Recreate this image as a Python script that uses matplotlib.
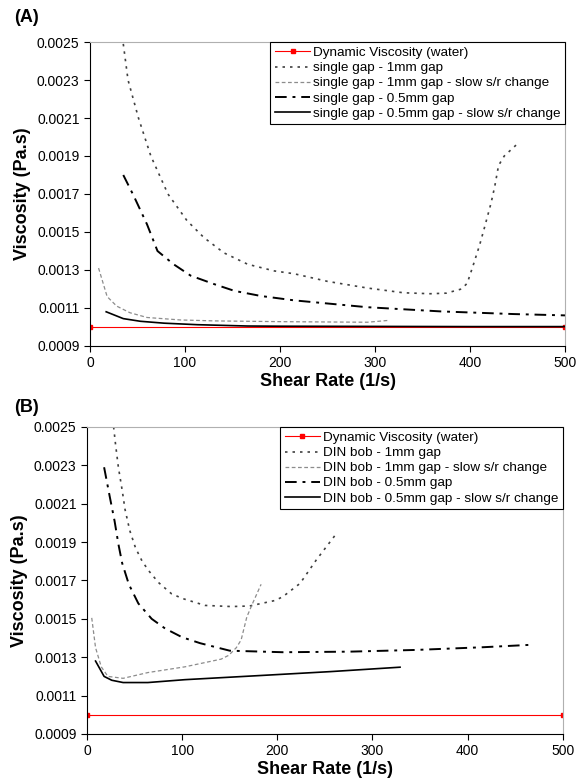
import matplotlib
matplotlib.use("Agg")
import matplotlib.pyplot as plt

plt.rcParams['font.family'] = ['Liberation Sans', 'DejaVu Sans']

# ---- panel A : single gap ----
water_x = [0, 500]
water_y = [0.001, 0.001]

a_1mm_x = [35, 40, 51, 64, 82, 102, 120, 141, 166, 194, 215, 250, 292, 330, 358, 375, 391, 397, 403, 410, 415, 422, 426, 430, 436, 449]
a_1mm_y = [0.00249, 0.0023, 0.0021, 0.0019, 0.0017, 0.00156, 0.00147, 0.00139, 0.00133, 0.001295, 0.00128, 0.00124, 0.001205, 0.00118, 0.001175, 0.001178, 0.0012, 0.00123, 0.00132, 0.00143, 0.00152, 0.00165, 0.00174, 0.00185, 0.0019, 0.00196]

a_1mm_slow_x = [9, 18, 28, 42, 60, 95, 131, 201, 292, 315]
a_1mm_slow_y = [0.00131, 0.00116, 0.00111, 0.001075, 0.00105, 0.001037, 0.001032, 0.001028, 0.001025, 0.001035]

a_05mm_x = [35, 46, 60, 71, 88, 106, 131, 152, 180, 215, 292, 369, 446, 500]
a_05mm_y = [0.0018, 0.00169, 0.00154, 0.0014, 0.00133, 0.00127, 0.001225, 0.00119, 0.001163, 0.00114, 0.001104, 0.001082, 0.001068, 0.001061]

a_05mm_slow_x = [17, 35, 53, 78, 113, 166, 201, 300, 400, 500]
a_05mm_slow_y = [0.00108, 0.001044, 0.00103, 0.00102, 0.001012, 0.001005, 0.001004, 0.001003, 0.001002, 0.001002]

# ---- panel B : DIN bob ----
b_1mm_x = [28, 30, 33, 37, 40, 45, 51, 58, 65, 75, 89, 101, 124, 152, 171, 198, 206, 224, 241, 261]
b_1mm_y = [0.0025, 0.00241, 0.00229, 0.00217, 0.00207, 0.00196, 0.00187, 0.0018, 0.00175, 0.00169, 0.00163, 0.001605, 0.00157, 0.001564, 0.001567, 0.001596, 0.001616, 0.001685, 0.001807, 0.001937]

b_1mm_slow_x = [5, 9, 15, 22, 38, 64, 103, 141, 149, 157, 162, 168, 174, 183]
b_1mm_slow_y = [0.001505, 0.00135, 0.00125, 0.0012, 0.00119, 0.00122, 0.00125, 0.00129, 0.00131, 0.00135, 0.00139, 0.00151, 0.00158, 0.00168]

b_05mm_x = [18, 24, 29, 33, 37, 44, 54, 68, 82, 100, 119, 150, 206, 276, 346, 416, 464]
b_05mm_y = [0.00229, 0.002135, 0.00201, 0.00189, 0.00179, 0.00168, 0.00158, 0.0015, 0.00145, 0.001404, 0.001373, 0.001334, 0.001326, 0.001329, 0.001338, 0.001352, 0.001364]

b_05mm_slow_x = [9, 18, 26, 38, 64, 103, 180, 256, 329]
b_05mm_slow_y = [0.00128, 0.0012, 0.00118, 0.001168, 0.001168, 0.001183, 0.001204, 0.001225, 0.001248]

y_ticks = [0.0009, 0.0011, 0.0013, 0.0015, 0.0017, 0.0019, 0.0021, 0.0023, 0.0025]
x_ticks = [0, 100, 200, 300, 400, 500]


def style_axes(ax):
    ax.set_xlim(0, 500)
    ax.set_ylim(0.0009, 0.0025)
    ax.set_xticks(x_ticks)
    ax.set_yticks(y_ticks)
    ax.set_yticklabels(["%.4f" % v for v in y_ticks])
    ax.tick_params(direction='out', length=4, labelsize=10, width=0.8)
    for s in ['top', 'right']:
        ax.spines[s].set_color('#b0b0b0')
    for s in ['left', 'bottom']:
        ax.spines[s].set_color('black')
    ax.set_xlabel("Shear Rate (1/s)", fontsize=13, fontweight='bold', labelpad=2)
    ax.set_ylabel("Viscosity (Pa.s)", fontsize=13, fontweight='bold', labelpad=4)


def draw(ax, prefix, s1, s2, s3, s4):
    ax.plot(water_x, water_y, color='red', lw=0.8, marker='s', ms=3.5,
            label="Dynamic Viscosity (water)", zorder=1.5)
    ax.plot(s1[0], s1[1], color='#404040', lw=1.2, ls=(0, (1.5, 3)),
            label=prefix + " - 1mm gap")
    ax.plot(s2[0], s2[1], color='#8c8c8c', lw=0.9, ls=(0, (3, 2)),
            label=prefix + " - 1mm gap - slow s/r change")
    ax.plot(s3[0], s3[1], color='black', lw=1.4, ls=(0, (6, 3, 1.5, 3)),
            label=prefix + " - 0.5mm gap")
    ax.plot(s4[0], s4[1], color='black', lw=1.2,
            label=prefix + " - 0.5mm gap - slow s/r change")
    leg = ax.legend(loc='upper right', fontsize=9.7, borderaxespad=0,
                    handlelength=2.6, handletextpad=0.2, labelspacing=0.2,
                    fancybox=False, edgecolor='black', framealpha=1,
                    borderpad=0.35)
    leg.get_frame().set_linewidth(0.8)


fig = plt.figure(figsize=(5.76, 7.78), dpi=100)
axA = fig.add_axes([0.1563, 0.5553, 0.8247, 0.3907])
axB = fig.add_axes([0.151, 0.0566, 0.826, 0.3946])

draw(axA, "single gap", (a_1mm_x, a_1mm_y), (a_1mm_slow_x, a_1mm_slow_y),
     (a_05mm_x, a_05mm_y), (a_05mm_slow_x, a_05mm_slow_y))
draw(axB, "DIN bob", (b_1mm_x, b_1mm_y), (b_1mm_slow_x, b_1mm_slow_y),
     (b_05mm_x, b_05mm_y), (b_05mm_slow_x, b_05mm_slow_y))
style_axes(axA)
style_axes(axB)

fig.text(14 / 576, 1 - 18 / 778, "(A)", fontsize=13, fontweight='bold', va='center')
fig.text(14 / 576, 1 - 407 / 778, "(B)", fontsize=13, fontweight='bold', va='center')

fig.savefig("out.png", dpi=100)
